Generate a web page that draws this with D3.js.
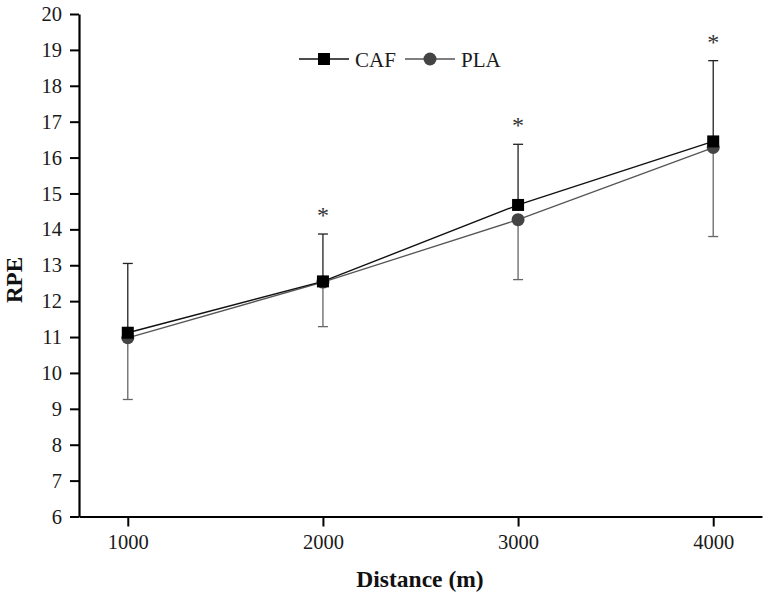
<!DOCTYPE html>
<html><head><meta charset="utf-8">
<script src="https://cdn.jsdelivr.net/npm/d3@7"></script>
<style>body{margin:0;background:#fff}svg{display:block}</style>
</head><body>
<svg id="c" width="768" height="602"></svg>
<script>
const distances = [1000, 2000, 3000, 4000];
const cafMean = [11.12, 12.55, 14.68, 16.45];
const cafUpper = [13.05, 13.87, 16.37, 18.70];
const plaMean = [10.98, 12.53, 14.27, 16.28];
const plaLower = [9.26, 11.29, 12.60, 13.80];
const significant = [false, true, true, true];
const yTicks = [6,7,8,9,10,11,12,13,14,15,16,17,18,19,20];
const seriesNames = ["CAF", "PLA"];

const svg = d3.select("#c");
const font = "'Liberation Serif','Times New Roman',serif";
const x = d3.scaleLinear().domain([750, 4250]).range([79, 762]);
const y = d3.scaleLinear().domain([6, 20]).range([516.5, 14]);

const yAxis = svg.append("g").attr("transform","translate(79,0)")
  .call(d3.axisLeft(y).tickValues(yTicks).tickSize(9).tickSizeOuter(0).tickPadding(8).tickFormat(d3.format("d")));
const xAxis = svg.append("g").attr("transform","translate(0,516.5)")
  .call(d3.axisBottom(x).tickValues(distances).tickSize(10).tickSizeOuter(0).tickPadding(8).tickFormat(d3.format("d")));
[yAxis, xAxis].forEach(a => {
  a.select(".domain").attr("stroke","#000").attr("stroke-width",2.2);
  a.selectAll(".tick line").attr("stroke","#000").attr("stroke-width",2);
  a.selectAll(".tick text").attr("font-family",font).attr("font-size",20.5).attr("fill","#1a1a1a");
});

// error bars
const cap = 5;
distances.forEach((d,i) => {
  const cx = x(d);
  svg.append("line").attr("x1",cx).attr("x2",cx).attr("y1",y(cafMean[i])).attr("y2",y(cafUpper[i]))
    .attr("stroke","#222").attr("stroke-width",1.3);
  svg.append("line").attr("x1",cx-cap).attr("x2",cx+cap).attr("y1",y(cafUpper[i])).attr("y2",y(cafUpper[i]))
    .attr("stroke","#222").attr("stroke-width",1.3);
  svg.append("line").attr("x1",cx).attr("x2",cx).attr("y1",y(plaMean[i])).attr("y2",y(plaLower[i]))
    .attr("stroke","#666").attr("stroke-width",1.3);
  svg.append("line").attr("x1",cx-cap).attr("x2",cx+cap).attr("y1",y(plaLower[i])).attr("y2",y(plaLower[i]))
    .attr("stroke","#666").attr("stroke-width",1.3);
  if (significant[i]) {
    svg.append("text").attr("x",cx).attr("y",y(cafUpper[i])-11).attr("text-anchor","middle")
      .attr("font-family",font).attr("font-size",24).attr("fill","#333").text("*");
  }
});

const line = d3.line().x(d=>x(d[0])).y(d=>y(d[1]));
svg.append("path").datum(distances.map((d,i)=>[d,plaMean[i]])).attr("d",line)
  .attr("fill","none").attr("stroke","#555").attr("stroke-width",1.3);
svg.append("path").datum(distances.map((d,i)=>[d,cafMean[i]])).attr("d",line)
  .attr("fill","none").attr("stroke","#111").attr("stroke-width",1.4);

svg.selectAll(".pla").data(distances).enter().append("circle")
  .attr("cx",d=>x(d)).attr("cy",(d,i)=>y(plaMean[i])).attr("r",6.5).attr("fill","#444");
svg.selectAll(".caf").data(distances).enter().append("rect")
  .attr("x",d=>x(d)-6).attr("y",(d,i)=>y(cafMean[i])-6).attr("width",12).attr("height",12).attr("fill","#000");

// legend
const ly = 59;
svg.append("line").attr("x1",299).attr("x2",349).attr("y1",ly).attr("y2",ly).attr("stroke","#111").attr("stroke-width",1.3);
svg.append("rect").attr("x",318).attr("y",ly-6).attr("width",12).attr("height",12).attr("fill","#000");
svg.append("text").attr("x",355).attr("y",ly+7.5).attr("font-family",font).attr("font-size",21).attr("fill","#1a1a1a").text(seriesNames[0]);
svg.append("line").attr("x1",405).attr("x2",455).attr("y1",ly).attr("y2",ly).attr("stroke","#555").attr("stroke-width",1.3);
svg.append("circle").attr("cx",430).attr("cy",ly).attr("r",6.5).attr("fill","#444");
svg.append("text").attr("x",461).attr("y",ly+7.5).attr("font-family",font).attr("font-size",21).attr("fill","#1a1a1a").text(seriesNames[1]);

// axis titles
svg.append("text").attr("transform","translate(22,280) rotate(-90)").attr("text-anchor","middle")
  .attr("font-family",font).attr("font-weight","bold").attr("font-size",23).attr("fill","#111").text("RPE");
svg.append("text").attr("x",420).attr("y",587).attr("text-anchor","middle")
  .attr("font-family",font).attr("font-weight","bold").attr("font-size",23.5).attr("fill","#111").text("Distance (m)");
</script>
</body></html>
